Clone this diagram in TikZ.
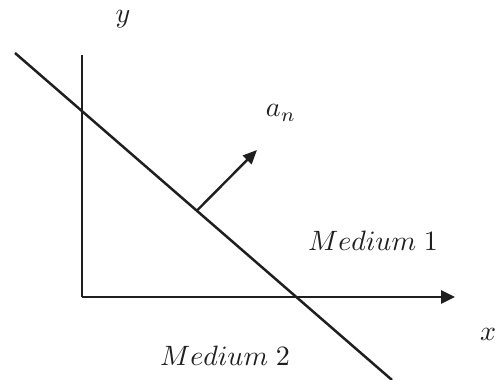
\documentclass[tikz,border=0pt]{standalone}
\usepackage{graphicx}
\usetikzlibrary{arrows.meta}
\newcommand{\biglab}[1]{\scalebox{2.8}{$#1$}}
\begin{document}
\begin{tikzpicture}[x=1pt,y=-1pt,
  axis/.style={line width=2.7pt,draw=black!88,-{Triangle[length=14pt,width=13pt]}},
  plain/.style={line width=2.5pt,draw=black!88},
  lab/.style={inner sep=0pt,text=black!88}]
\useasboundingbox (0,0) rectangle (501,380);
\coordinate (O) at (82,297);
\coordinate (ytop) at (82,55);
\coordinate (xtip) at (455,297);
\coordinate (A) at (15,53);
\coordinate (B) at (392,380);
\coordinate (N) at (197,210.5);
\coordinate (T) at (257,150);
\draw[plain] (ytop) -- (O);
\draw[axis] (O) -- (xtip);
\draw[plain] (A) -- (B);
\draw[axis,line width=2.4pt,-{Triangle[length=14pt,width=12pt]}] (N) -- (T);
\node[lab] (ly) at (123,19) {\biglab{y}};
\node[lab] (lx) at (488,334) {\biglab{x}};
\node[lab] (lan) at (281,113) {\biglab{a_n}};
\node[lab] (m1) at (373,241) {\biglab{Medium\;1}};
\node[lab] (m2) at (225,356) {\biglab{Medium\;2}};
\end{tikzpicture}
\end{document}
